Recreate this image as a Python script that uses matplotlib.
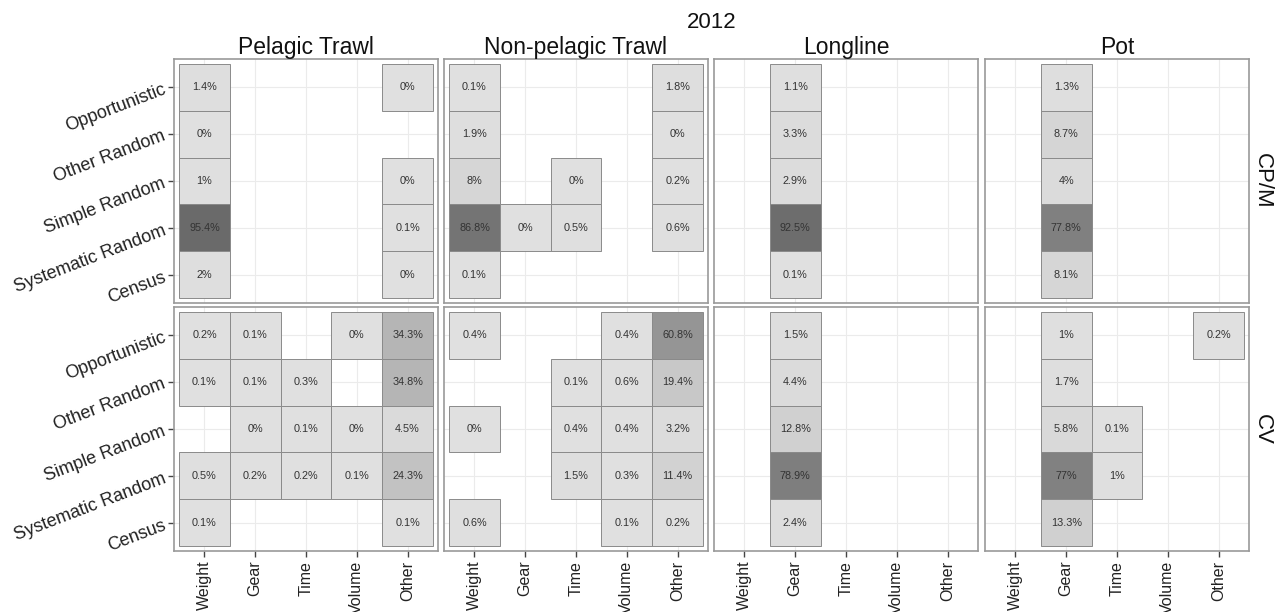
import numpy as np
import matplotlib.pyplot as plt
from matplotlib.patches import Rectangle

plt.rcParams["font.family"] = ["Liberation Sans", "DejaVu Sans"]

nan = np.nan

# ── Data ──────────────────────────────────────────────────────────────
gear_types = ["Pelagic Trawl", "Non-pelagic Trawl", "Longline", "Pot"]
vessel_types = ["CP/M", "CV"]
methods = ["Opportunistic", "Other Random", "Simple Random", "Systematic Random", "Census"]
units = ["Weight", "Gear", "Time", "Volume", "Other"]

# rows = methods (top→bottom), cols = units; nan = no tile
pt_cpm = [[1.4, nan, nan, nan, 0.0],
          [0.0, nan, nan, nan, nan],
          [1.0, nan, nan, nan, 0.0],
          [95.4, nan, nan, nan, 0.1],
          [2.0, nan, nan, nan, 0.0]]
np_cpm = [[0.1, nan, nan, nan, 1.8],
          [1.9, nan, nan, nan, 0.0],
          [8.0, nan, 0.0, nan, 0.2],
          [86.8, 0.0, 0.5, nan, 0.6],
          [0.1, nan, nan, nan, nan]]
ll_cpm = [[nan, 1.1, nan, nan, nan],
          [nan, 3.3, nan, nan, nan],
          [nan, 2.9, nan, nan, nan],
          [nan, 92.5, nan, nan, nan],
          [nan, 0.1, nan, nan, nan]]
pot_cpm = [[nan, 1.3, nan, nan, nan],
           [nan, 8.7, nan, nan, nan],
           [nan, 4.0, nan, nan, nan],
           [nan, 77.8, nan, nan, nan],
           [nan, 8.1, nan, nan, nan]]

pt_cv = [[0.2, 0.1, nan, 0.0, 34.3],
         [0.1, 0.1, 0.3, nan, 34.8],
         [nan, 0.0, 0.1, 0.0, 4.5],
         [0.5, 0.2, 0.2, 0.1, 24.3],
         [0.1, nan, nan, nan, 0.1]]
np_cv = [[0.4, nan, nan, 0.4, 60.8],
         [nan, nan, 0.1, 0.6, 19.4],
         [0.0, nan, 0.4, 0.4, 3.2],
         [nan, nan, 1.5, 0.3, 11.4],
         [0.6, nan, nan, 0.1, 0.2]]
ll_cv = [[nan, 1.5, nan, nan, nan],
         [nan, 4.4, nan, nan, nan],
         [nan, 12.8, nan, nan, nan],
         [nan, 78.9, nan, nan, nan],
         [nan, 2.4, nan, nan, nan]]
pot_cv = [[nan, 1.0, nan, nan, 0.2],
          [nan, 1.7, nan, nan, nan],
          [nan, 5.8, 0.1, nan, nan],
          [nan, 77.0, 1.0, nan, nan],
          [nan, 13.3, nan, nan, nan]]

panels = [[pt_cpm, np_cpm, ll_cpm, pot_cpm],
          [pt_cv, np_cv, ll_cv, pot_cv]]

title = "2012"


def fill_for(v):
    g = (224 - 1.24 * v) / 255.0
    return (g, g, g)


def fmt(v):
    return f"{v:g}%"


# ── Layout (pixels) ───────────────────────────────────────────────────
W, H = 1287, 612
fig = plt.figure(figsize=(W / 100, H / 100), dpi=100)
fig.patch.set_facecolor("white")

lefts = [174, 444, 714, 985]
pw = 264
tops = [59, 307]
ph = 244

n = len(units)
for r, vt in enumerate(vessel_types):
    for c, gt in enumerate(gear_types):
        ax = fig.add_axes([lefts[c] / W, 1 - (tops[r] + ph) / H, pw / W, ph / H])
        ax.set_xlim(0.4, n + 0.6)
        ax.set_ylim(0.4, len(methods) + 0.6)
        ax.set_xticks(range(1, n + 1))
        ax.set_yticks(range(1, len(methods) + 1))
        ax.grid(True, color="#ebebeb", linewidth=0.8)
        ax.set_axisbelow(True)
        for s in ax.spines.values():
            s.set_color("#9a9a9a")
            s.set_linewidth(1.2)

        data = np.array(panels[r][c], dtype=float)
        for i, m in enumerate(methods):
            y = len(methods) - i
            for j, u in enumerate(units):
                v = data[i, j]
                if np.isnan(v):
                    continue
                x = j + 1
                ax.add_patch(Rectangle((x - 0.5, y - 0.5), 1, 1,
                                       facecolor=fill_for(v), edgecolor="#8a8a8a",
                                       linewidth=0.7, zorder=2))
                ax.text(x, y, fmt(v), ha="center", va="center",
                        fontsize=7.8, color="#333333", zorder=3)

        ax.tick_params(axis="both", length=4, width=1, color="#444444", pad=3)
        if c == 0:
            ax.set_yticklabels(methods[::-1], rotation=21, fontsize=13,
                               color="#222222", ha="right", rotation_mode="anchor")
        else:
            ax.tick_params(axis="y", length=0)
            ax.set_yticklabels([])
        if r == 1:
            ax.set_xticklabels(units, rotation=90, fontsize=11.5, color="#222222")
        else:
            ax.tick_params(axis="x", length=0)
            ax.set_xticklabels([])

        if r == 0:
            ax.set_title(gt, fontsize=16.5, pad=3, color="#111111")
        if c == len(gear_types) - 1:
            ax.text(1.012, 0.5, vt, transform=ax.transAxes, rotation=-90,
                    fontsize=16, ha="left", va="center", color="#111111")

fig.text(712 / W, 1 - 22 / H, title, fontsize=16, ha="center", va="center",
         color="#111111")

fig.savefig("out.png", dpi=100, facecolor="white")
